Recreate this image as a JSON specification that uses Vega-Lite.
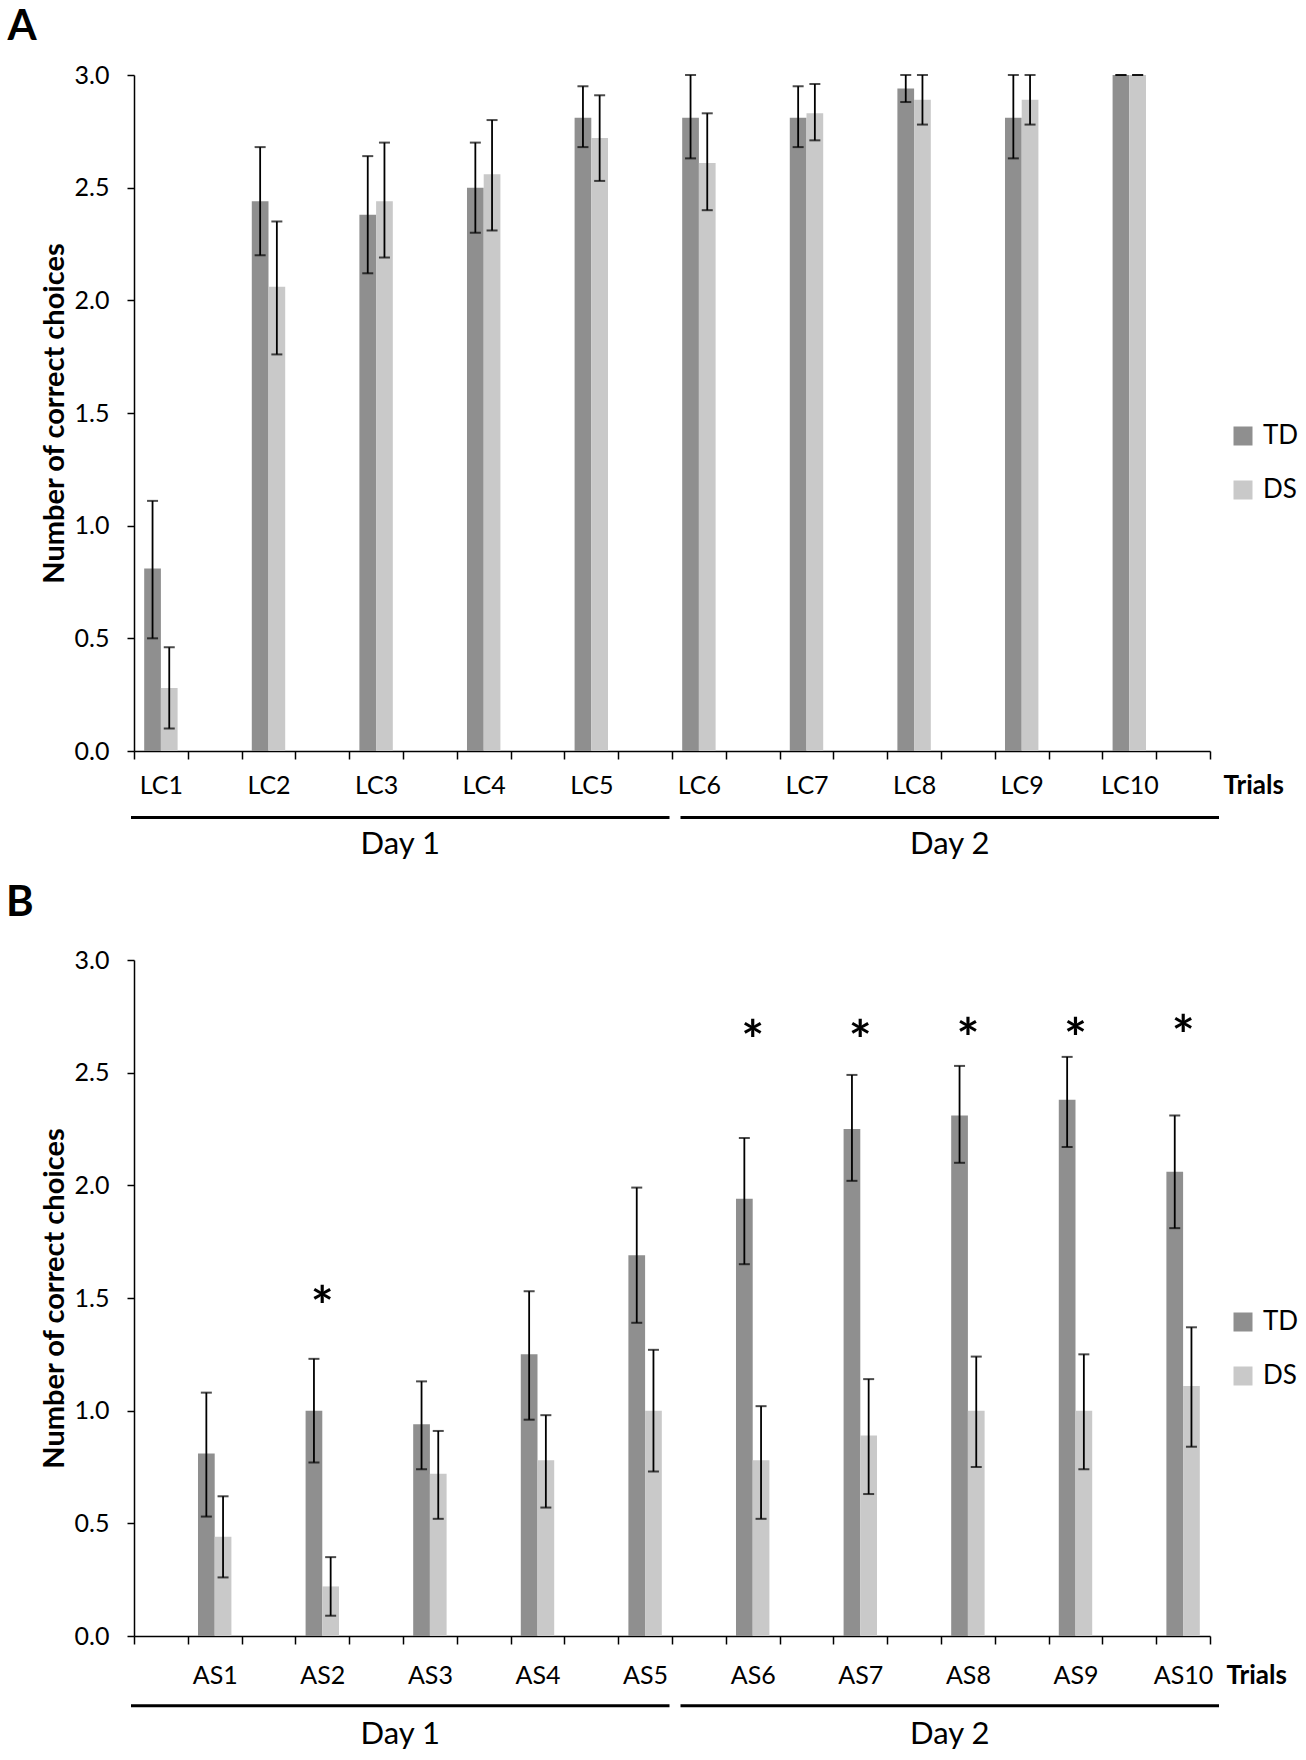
{
  "$schema": "https://vega.github.io/schema/vega-lite/v6.json",
  "background": "white",
  "padding": {"left": 6, "top": 6, "right": 4, "bottom": 4},
  "bounds": "flush",
  "spacing": 209,
  "datasets": {
    "lc": [
      {"trial": "LC1", "group": "TD", "mean": 0.81, "lo": 0.50, "hi": 1.11},
      {"trial": "LC1", "group": "DS", "mean": 0.28, "lo": 0.10, "hi": 0.46},
      {"trial": "LC2", "group": "TD", "mean": 2.44, "lo": 2.20, "hi": 2.68},
      {"trial": "LC2", "group": "DS", "mean": 2.06, "lo": 1.76, "hi": 2.35},
      {"trial": "LC3", "group": "TD", "mean": 2.38, "lo": 2.12, "hi": 2.64},
      {"trial": "LC3", "group": "DS", "mean": 2.44, "lo": 2.19, "hi": 2.70},
      {"trial": "LC4", "group": "TD", "mean": 2.50, "lo": 2.30, "hi": 2.70},
      {"trial": "LC4", "group": "DS", "mean": 2.56, "lo": 2.31, "hi": 2.80},
      {"trial": "LC5", "group": "TD", "mean": 2.81, "lo": 2.68, "hi": 2.95},
      {"trial": "LC5", "group": "DS", "mean": 2.72, "lo": 2.53, "hi": 2.91},
      {"trial": "LC6", "group": "TD", "mean": 2.81, "lo": 2.63, "hi": 3.00},
      {"trial": "LC6", "group": "DS", "mean": 2.61, "lo": 2.40, "hi": 2.83},
      {"trial": "LC7", "group": "TD", "mean": 2.81, "lo": 2.68, "hi": 2.95},
      {"trial": "LC7", "group": "DS", "mean": 2.83, "lo": 2.71, "hi": 2.96},
      {"trial": "LC8", "group": "TD", "mean": 2.94, "lo": 2.88, "hi": 3.00},
      {"trial": "LC8", "group": "DS", "mean": 2.89, "lo": 2.78, "hi": 3.00},
      {"trial": "LC9", "group": "TD", "mean": 2.81, "lo": 2.63, "hi": 3.00},
      {"trial": "LC9", "group": "DS", "mean": 2.89, "lo": 2.78, "hi": 3.00},
      {"trial": "LC10", "group": "TD", "mean": 3.00, "lo": 3.00, "hi": 3.00},
      {"trial": "LC10", "group": "DS", "mean": 3.00, "lo": 3.00, "hi": 3.00}
    ],
    "as": [
      {"trial": "AS1", "group": "TD", "mean": 0.81, "lo": 0.53, "hi": 1.08},
      {"trial": "AS1", "group": "DS", "mean": 0.44, "lo": 0.26, "hi": 0.62},
      {"trial": "AS2", "group": "TD", "mean": 1.00, "lo": 0.77, "hi": 1.23},
      {"trial": "AS2", "group": "DS", "mean": 0.22, "lo": 0.09, "hi": 0.35},
      {"trial": "AS3", "group": "TD", "mean": 0.94, "lo": 0.74, "hi": 1.13},
      {"trial": "AS3", "group": "DS", "mean": 0.72, "lo": 0.52, "hi": 0.91},
      {"trial": "AS4", "group": "TD", "mean": 1.25, "lo": 0.96, "hi": 1.53},
      {"trial": "AS4", "group": "DS", "mean": 0.78, "lo": 0.57, "hi": 0.98},
      {"trial": "AS5", "group": "TD", "mean": 1.69, "lo": 1.39, "hi": 1.99},
      {"trial": "AS5", "group": "DS", "mean": 1.00, "lo": 0.73, "hi": 1.27},
      {"trial": "AS6", "group": "TD", "mean": 1.94, "lo": 1.65, "hi": 2.21},
      {"trial": "AS6", "group": "DS", "mean": 0.78, "lo": 0.52, "hi": 1.02},
      {"trial": "AS7", "group": "TD", "mean": 2.25, "lo": 2.02, "hi": 2.49},
      {"trial": "AS7", "group": "DS", "mean": 0.89, "lo": 0.63, "hi": 1.14},
      {"trial": "AS8", "group": "TD", "mean": 2.31, "lo": 2.10, "hi": 2.53},
      {"trial": "AS8", "group": "DS", "mean": 1.00, "lo": 0.75, "hi": 1.24},
      {"trial": "AS9", "group": "TD", "mean": 2.38, "lo": 2.17, "hi": 2.57},
      {"trial": "AS9", "group": "DS", "mean": 1.00, "lo": 0.74, "hi": 1.25},
      {"trial": "AS10", "group": "TD", "mean": 2.06, "lo": 1.81, "hi": 2.31},
      {"trial": "AS10", "group": "DS", "mean": 1.11, "lo": 0.84, "hi": 1.37}
    ],
    "stars": [
      {"trial": "AS2", "y": 1.51},
      {"trial": "AS6", "y": 2.69},
      {"trial": "AS7", "y": 2.69},
      {"trial": "AS8", "y": 2.70},
      {"trial": "AS9", "y": 2.70},
      {"trial": "AS10", "y": 2.71}
    ],
    "days": [
      {"day": "Day 1"},
      {"day": "Day 2"}
    ]
  },
  "vconcat": [
    {
      "title": {"text": "A", "anchor": "start", "frame": "group", "dx": -126.6, "offset": -19, "baseline": "alphabetic", "fontSize": 42, "fontWeight": "bold", "color": "black"},
      "width": 1076,
      "height": 676,
      "layer": [
        {
          "data": {"name": "lc"},
          "encoding": {
            "x": {
              "field": "trial", "type": "nominal",
              "scale": {"domain": ["LC1","gA1","LC2","gA2","LC3","gA3","LC4","gA4","LC5","gA5","LC6","gA6","LC7","gA7","LC8","gA8","LC9","gA9","LC10","gA10"], "paddingInner": 0, "paddingOuter": 0},
              "axis": {"title": "Trials", "titleFontSize": 26, "titleFontWeight": "bold", "titleX": 1089, "titleY": 42, "titleAlign": "left", "titleBaseline": "alphabetic", "labelAngle": 0, "labelExpr": "indexof(datum.label, 'g') == 0 ? '' : datum.label", "tickBand": "extent", "tickSize": 8, "labelPadding": 34, "labelBaseline": "alphabetic"}
            }
          },
          "layer": [
            {
              "encoding": {"xOffset": {"field": "group", "type": "nominal", "scale": {"domain": ["TD", "DS"], "paddingInner": 0, "paddingOuter": 0.61}}},
              "layer": [
                {
                  "mark": {"type": "bar"},
                  "encoding": {
                    "y": {"field": "mean", "type": "quantitative", "title": "Number of correct choices", "scale": {"domain": [0, 3], "nice": false},
                      "axis": {"values": [0, 0.5, 1, 1.5, 2, 2.5, 3], "format": ".1f", "tickSize": 7, "labelPadding": 18, "titleFontSize": 29, "titleFontWeight": "bold", "titlePadding": 5}},
                    "color": {"field": "group", "type": "nominal", "scale": {"domain": ["TD", "DS"], "range": ["#8f8f8f", "#c9c9c9"]},
                      "legend": {"orient": "none", "legendX": 1096, "legendY": 348, "title": null, "symbolType": "square", "symbolSize": 361, "symbolStrokeWidth": 0, "labelFontSize": 26, "labelOffset": 7, "rowPadding": 28, "padding": 0}}
                  }
                },
                {
                  "mark": {"type": "rule", "color": "black", "strokeWidth": 1.8},
                  "encoding": {
                    "y": {"field": "lo", "type": "quantitative", "title": "Number of correct choices", "scale": {"domain": [0, 3], "nice": false}},
                    "y2": {"field": "hi"}
                  }
                },
                {
                  "mark": {"type": "tick", "orient": "horizontal", "color": "black", "size": 11, "thickness": 2},
                  "encoding": {"y": {"field": "hi", "type": "quantitative", "title": "Number of correct choices", "scale": {"domain": [0, 3], "nice": false}}}
                },
                {
                  "mark": {"type": "tick", "orient": "horizontal", "color": "black", "size": 11, "thickness": 2},
                  "encoding": {"y": {"field": "lo", "type": "quantitative", "title": "Number of correct choices", "scale": {"domain": [0, 3], "nice": false}}}
                }
              ]
            }
          ]
        },
        {
          "data": {"name": "days"},
          "layer": [
            {
              "mark": {"type": "rule", "color": "black", "strokeWidth": 3},
              "encoding": {
                "x": {"field": "day", "type": "nominal", "bandPosition": 0, "scale": {"range": [-3, 1085], "paddingInner": 0.02, "paddingOuter": 0}, "axis": null},
                "x2": {"field": "day", "bandPosition": 1},
                "y": {"datum": -0.295, "type": "quantitative", "title": "Number of correct choices", "scale": {"domain": [0, 3], "nice": false}}
              }
            },
            {
              "mark": {"type": "text", "fontSize": 31, "baseline": "alphabetic", "color": "black"},
              "encoding": {
                "x": {"field": "day", "type": "nominal", "scale": {"range": [-3, 1085], "paddingInner": 0.02, "paddingOuter": 0}, "axis": null},
                "y": {"datum": -0.457, "type": "quantitative", "title": "Number of correct choices", "scale": {"domain": [0, 3], "nice": false}},
                "text": {"field": "day"}
              }
            }
          ]
        }
      ],
      "resolve": {"scale": {"x": "independent"}}
    },
    {
      "title": {"text": "B", "anchor": "start", "frame": "group", "dx": -128, "offset": -10, "baseline": "alphabetic", "fontSize": 42, "fontWeight": "bold", "color": "black"},
      "width": 1076,
      "height": 676,
      "layer": [
        {
          "data": {"name": "as"},
          "encoding": {
            "x": {
              "field": "trial", "type": "nominal",
              "scale": {"domain": ["gB1","AS1","gB2","AS2","gB3","AS3","gB4","AS4","gB5","AS5","gB6","AS6","gB7","AS7","gB8","AS8","gB9","AS9","gB10","AS10"], "paddingInner": 0, "paddingOuter": 0},
              "axis": {"title": "Trials", "titleFontSize": 26, "titleFontWeight": "bold", "titleX": 1092, "titleY": 47, "titleAlign": "left", "titleBaseline": "alphabetic", "labelAngle": 0, "labelExpr": "indexof(datum.label, 'g') == 0 ? '' : datum.label", "tickBand": "extent", "tickSize": 8, "labelPadding": 39, "labelBaseline": "alphabetic"}
            }
          },
          "layer": [
            {
              "encoding": {"xOffset": {"field": "group", "type": "nominal", "scale": {"domain": ["TD", "DS"], "paddingInner": 0, "paddingOuter": 0.61}}},
              "layer": [
                {
                  "mark": {"type": "bar"},
                  "encoding": {
                    "y": {"field": "mean", "type": "quantitative", "title": "Number of correct choices", "scale": {"domain": [0, 3], "nice": false},
                      "axis": {"values": [0, 0.5, 1, 1.5, 2, 2.5, 3], "format": ".1f", "tickSize": 7, "labelPadding": 18, "titleFontSize": 29, "titleFontWeight": "bold", "titlePadding": 5}},
                    "color": {"field": "group", "type": "nominal", "scale": {"domain": ["TD", "DS"], "range": ["#8f8f8f", "#c9c9c9"]},
                      "legend": {"orient": "none", "legendX": 1096, "legendY": 349, "title": null, "symbolType": "square", "symbolSize": 361, "symbolStrokeWidth": 0, "labelFontSize": 26, "labelOffset": 7, "rowPadding": 28, "padding": 0}}
                  }
                },
                {
                  "mark": {"type": "rule", "color": "black", "strokeWidth": 1.8},
                  "encoding": {
                    "y": {"field": "lo", "type": "quantitative", "title": "Number of correct choices", "scale": {"domain": [0, 3], "nice": false}},
                    "y2": {"field": "hi"}
                  }
                },
                {
                  "mark": {"type": "tick", "orient": "horizontal", "color": "black", "size": 11, "thickness": 2},
                  "encoding": {"y": {"field": "hi", "type": "quantitative", "title": "Number of correct choices", "scale": {"domain": [0, 3], "nice": false}}}
                },
                {
                  "mark": {"type": "tick", "orient": "horizontal", "color": "black", "size": 11, "thickness": 2},
                  "encoding": {"y": {"field": "lo", "type": "quantitative", "title": "Number of correct choices", "scale": {"domain": [0, 3], "nice": false}}}
                }
              ]
            },
            {
              "data": {"name": "stars"},
              "mark": {"type": "text", "text": "*", "fontSize": 54, "fontWeight": "bold", "baseline": "alphabetic", "dy": 29, "color": "black"},
              "encoding": {"y": {"field": "y", "type": "quantitative", "title": "Number of correct choices", "scale": {"domain": [0, 3], "nice": false}}}
            }
          ]
        },
        {
          "data": {"name": "days"},
          "layer": [
            {
              "mark": {"type": "rule", "color": "black", "strokeWidth": 3},
              "encoding": {
                "x": {"field": "day", "type": "nominal", "bandPosition": 0, "scale": {"range": [-3, 1085], "paddingInner": 0.02, "paddingOuter": 0}, "axis": null},
                "x2": {"field": "day", "bandPosition": 1},
                "y": {"datum": -0.31, "type": "quantitative", "title": "Number of correct choices", "scale": {"domain": [0, 3], "nice": false}}
              }
            },
            {
              "mark": {"type": "text", "fontSize": 31, "baseline": "alphabetic", "color": "black"},
              "encoding": {
                "x": {"field": "day", "type": "nominal", "scale": {"range": [-3, 1085], "paddingInner": 0.02, "paddingOuter": 0}, "axis": null},
                "y": {"datum": -0.48, "type": "quantitative", "title": "Number of correct choices", "scale": {"domain": [0, 3], "nice": false}},
                "text": {"field": "day"}
              }
            }
          ]
        }
      ],
      "resolve": {"scale": {"x": "independent"}}
    }
  ],
  "resolve": {"scale": {"x": "independent", "y": "independent", "color": "shared"}, "legend": {"color": "independent"}},
  "config": {
    "font": "Lato",
    "view": {"stroke": null},
    "axis": {"grid": false, "domainColor": "black", "domainWidth": 1.5, "tickColor": "black", "tickWidth": 1.5, "labelColor": "black", "labelFontSize": 25, "titleColor": "black"},
    "legend": {"labelColor": "black"}
  }
}
